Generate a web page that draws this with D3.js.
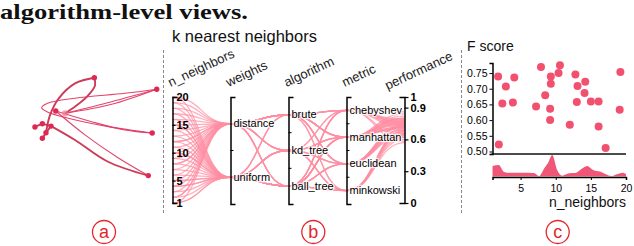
<!DOCTYPE html>
<html>
<head>
<meta charset="utf-8">
<script src="https://cdn.jsdelivr.net/npm/d3@7"></script>
<style>
  body { margin: 0; background: #fff; }
  svg { display: block; font-family: "Liberation Sans", Arial, sans-serif; }
</style>
</head>
<body>
<svg id="chart" width="634" height="246"></svg>
<script>
// ---- data ----
// (a) algorithm graph, layout coords in [0,1]
const nodeIds = ["A", "B", "C", "D", "E", "F", "G", "H", "I", "J", "K"]
const nodeX = [0.495, 0.975, 0.94, 0.91, 0.198, 0.27, 0.038, 0.095, 0.123, 0.095, 0.162]
const nodeY = [0.07, 0.175, 0.573, 0.96, 0.373, 0.394, 0.518, 0.488, 0.57, 0.62, 0.51]
const edgeSource = ["I", "A", "K", "E", "B", "B", "B", "E", "G", "H", "I", "K"]
const edgeTarget = ["A", "F", "D", "D", "F", "F", "C", "C", "H", "K", "J", "I"]
const edgeVia = [
  [[0.154, 0.41], [0.22, 0.26], [0.35, 0.12]],
  [[0.5, 0.14], [0.44, 0.24], [0.35, 0.33]],
  [[0.346, 0.636], [0.6, 0.834]],
  [[0.423, 0.59], [0.68, 0.80]],
  [[0.628, 0.288]],
  [[0.628, 0.312]],
  [[0.731, 0.212], [0.346, 0.257], [0.135, 0.303], [0.09, 0.343], [0.13, 0.379], [0.295, 0.439], [0.602, 0.515]],
  [[0.474, 0.47], [0.73, 0.545]],
  [], [], [], []
]
const edgeStrong = [true, true, true, false, false, false, false, false, true, true, true, true]

// (b) parallel coordinates
const dimensions = ["n_neighbors", "weights", "algorithm", "metric", "performance"]
const weightsCats = ["distance", "uniform"]
const algorithmCats = ["brute", "kd_tree", "ball_tree"]
const metricCats = ["chebyshev", "manhattan", "euclidean", "minkowski"]
const nTicks = [20, 15, 10, 5, 1]
const perfTicks = [1, 0.9, 0.6, 0.3, 0]

const pcNeighbors = [20, 20, 19, 19, 18, 17, 17, 16, 16, 15, 15, 14, 14, 13, 13, 12, 12, 11, 11, 10, 10, 10, 9, 9,
  8, 8, 7, 7, 6, 6, 5, 5, 5, 4, 4, 3, 3, 2, 2, 1, 1, 1, 18, 15, 12, 8, 4, 2]
const pcWeights = ["distance", "uniform", "distance", "uniform", "distance", "uniform", "distance", "uniform",
  "distance", "uniform", "distance", "uniform", "distance", "uniform", "distance", "uniform", "distance", "uniform",
  "distance", "uniform", "distance", "uniform", "distance", "uniform", "distance", "uniform", "distance", "uniform",
  "distance", "uniform", "distance", "uniform", "uniform", "distance", "uniform", "distance", "uniform", "distance",
  "uniform", "distance", "uniform", "uniform", "uniform", "uniform", "distance", "distance", "uniform", "distance"]
const pcAlgorithm = ["brute", "ball_tree", "kd_tree", "ball_tree", "brute", "kd_tree", "brute", "ball_tree",
  "ball_tree", "brute", "brute", "ball_tree", "kd_tree", "kd_tree", "brute", "ball_tree", "ball_tree", "ball_tree",
  "brute", "kd_tree", "brute", "ball_tree", "kd_tree", "brute", "brute", "ball_tree", "ball_tree", "kd_tree",
  "brute", "ball_tree", "kd_tree", "ball_tree", "brute", "brute", "kd_tree", "brute", "ball_tree", "ball_tree",
  "ball_tree", "brute", "kd_tree", "ball_tree", "ball_tree", "kd_tree", "brute", "kd_tree", "ball_tree", "brute"]
const pcMetric = ["chebyshev", "minkowski", "manhattan", "euclidean", "manhattan", "chebyshev", "euclidean", "manhattan",
  "minkowski", "chebyshev", "manhattan", "euclidean", "euclidean", "manhattan", "minkowski", "chebyshev", "manhattan",
  "minkowski", "chebyshev", "euclidean", "manhattan", "manhattan", "minkowski", "euclidean", "chebyshev", "manhattan",
  "euclidean", "minkowski", "manhattan", "chebyshev", "manhattan", "euclidean", "manhattan", "minkowski", "chebyshev",
  "euclidean", "manhattan", "chebyshev", "minkowski", "manhattan", "euclidean", "chebyshev", "manhattan", "minkowski",
  "euclidean", "manhattan", "manhattan", "chebyshev"]
const pcPerformance = [0.78, 0.66, 0.74, 0.70, 0.80, 0.62, 0.72, 0.76, 0.68, 0.58, 0.82, 0.73, 0.69, 0.75, 0.64, 0.71,
  0.77, 0.60, 0.79, 0.67, 0.84, 0.72, 0.65, 0.74, 0.76, 0.70, 0.63, 0.68, 0.78, 0.73, 0.71, 0.66, 0.75, 0.62, 0.77,
  0.69, 0.80, 0.74, 0.57, 0.72, 0.65, 0.76, 0.71, 0.68, 0.73, 0.79, 0.64, 0.86]

// (c) F score vs n_neighbors
const fsNeighbors = [1.8, 2.4, 2.9, 1.9, 4.1, 3.9, 7.2, 7.9, 8.5, 9.2, 9.2, 9.3, 9.3, 10.4, 10.6, 12.0, 12.8, 13.1,
  13.0, 14.2, 14.1, 15.0, 16.1, 16.1, 17.1, 19.1, 19.2]
const fsScore = [0.739, 0.653, 0.707, 0.522, 0.736, 0.656, 0.643, 0.769, 0.679, 0.636, 0.600, 0.716, 0.739, 0.750,
  0.775, 0.585, 0.745, 0.709, 0.658, 0.722, 0.686, 0.659, 0.659, 0.580, 0.511, 0.633, 0.753]
const densityN = [1, 1.9, 2.6, 3.1, 5, 6.9, 7.6, 8.4, 8.9, 9.5, 10.2, 10.9, 11.9, 12.8, 13.8, 14.5, 15.2, 16.4, 17.9,
  18.8, 19.5, 20]
const densityV = [0.49, 0.53, 0.22, 0.18, 0.18, 0.16, 0.02, 0.40, 0.63, 1.0, 0.30, 0.04, 0.15, 0.16, 0.38, 0.49, 0.33,
  0.22, 0.02, 0.12, 0.18, 0.12]

const panelLetters = ["a", "b", "c"]

// ---- drawing ----
const svg = d3.select("#chart")
const red = "#e3262c"

svg.append("text")
  .attr("x", 0).attr("y", 19)
  .attr("font-family", "'Liberation Serif', 'DejaVu Serif', serif")
  .attr("font-weight", "bold")
  .attr("font-size", 22)
  .attr("textLength", 248)
  .attr("lengthAdjust", "spacingAndGlyphs")
  .attr("fill", "#111")
  .text("algorithm-level views.")

// separators
for (const x of [163.5, 461.5]) {
  svg.append("line")
    .attr("x1", x).attr("x2", x).attr("y1", 50).attr("y2", 213)
    .attr("stroke", "#888").attr("stroke-dasharray", "3,2")
}

// panel letters
const lettersMid = d3.scaleOrdinal(panelLetters, [104, 313.3, 557.7])
const gLetters = svg.append("g")
panelLetters.forEach(l => {
  gLetters.append("circle")
    .attr("cx", lettersMid(l)).attr("cy", 232).attr("r", 11.5)
    .attr("fill", "none").attr("stroke", red).attr("stroke-width", 1.3)
  gLetters.append("text")
    .attr("x", lettersMid(l)).attr("y", 232).attr("dy", "0.36em")
    .attr("text-anchor", "middle").attr("font-size", 18).attr("fill", red)
    .text(l)
})

// ---- (a) graph ----
const xA = d3.scaleLinear([0, 1], [30, 160])
const yA = d3.scaleLinear([0, 1], [70, 180])
const nodeIndex = new Map(nodeIds.map((id, i) => [id, i]))
const pos = id => [nodeX[nodeIndex.get(id)], nodeY[nodeIndex.get(id)]]
const edgeLine = d3.line().x(d => xA(d[0])).y(d => yA(d[1])).curve(d3.curveCatmullRom.alpha(0.5))

const gA = svg.append("g").attr("fill", "none")
edgeSource.forEach((s, i) => {
  const pts = [pos(s), ...edgeVia[i], pos(edgeTarget[i])]
  gA.append("path")
    .attr("d", edgeLine(pts))
    .attr("stroke", edgeStrong[i] ? "#c9304f" : "#e23a64")
    .attr("stroke-width", edgeStrong[i] ? 1.9 : 1.1)
    .attr("stroke-opacity", 0.95)
})
svg.append("g").selectAll("circle")
  .data(nodeIds)
  .join("circle")
  .attr("cx", d => xA(pos(d)[0]))
  .attr("cy", d => yA(pos(d)[1]))
  .attr("r", d => d === "F" ? 3.2 : 2.7)
  .attr("fill", d => d === "F" ? "#f07a96" : "#dc2a55")
  .attr("fill-opacity", d => d === "F" ? 0.7 : 1)

// ---- (b) parallel coordinates ----
svg.append("text")
  .attr("x", 172).attr("y", 42)
  .attr("font-size", 16.5).attr("fill", "#111")
  .text("k nearest neighbors")

const xP = d3.scalePoint(dimensions, [172.5, 404.5])
const yScales = {
  n_neighbors: d3.scaleLinear([1, 20], [203, 97]),
  weights: d3.scaleBand(weightsCats, [97, 204]),
  algorithm: d3.scaleBand(algorithmCats, [97, 204]),
  metric: d3.scaleBand(metricCats, [97, 204]),
  performance: d3.scaleLinear([0, 1], [203, 97])
}
const yVal = (dim, v) => {
  const s = yScales[dim]
  return s.bandwidth ? s(v) + s.bandwidth() / 2 : s(v)
}

const rows = pcNeighbors.map((n, i) => ({
  n_neighbors: n, weights: pcWeights[i], algorithm: pcAlgorithm[i],
  metric: pcMetric[i], performance: pcPerformance[i]
}))

const pcLine = d3.line().curve(d3.curveBumpX)
svg.append("g")
  .attr("fill", "none")
  .attr("stroke", "#ff8ea2")
  .attr("stroke-opacity", 0.72)
  .attr("stroke-width", 1.3)
  .selectAll("path")
  .data(rows)
  .join("path")
  .attr("d", r => pcLine(dimensions.map(d => [xP(d), yVal(d, r[d])])))

const axisFont = g => g.selectAll("text").attr("font-size", 11).attr("fill", "#000")
  .attr("font-family", "'Liberation Sans', Arial, sans-serif")

dimensions.forEach(dim => {
  const g = svg.append("g").attr("transform", `translate(${xP(dim)},0)`)
  const s = yScales[dim]
  if (dim === "n_neighbors") {
    g.call(d3.axisRight(s).tickValues(nTicks).tickSize(3).tickSizeOuter(5).tickPadding(1))
    g.selectAll(".tick text").attr("font-weight", "bold")
  } else if (dim === "performance") {
    g.call(d3.axisRight(s).tickValues(perfTicks).tickSize(4).tickSizeOuter(-5).tickPadding(2)
      .tickFormat(d => (d === 0 || d === 1) ? d : d.toFixed(1)))
    g.selectAll(".tick text").attr("font-weight", "bold")
  } else {
    g.call(d3.axisRight(s).tickSize(0).tickSizeOuter(5).tickPadding(3))
    g.selectAll(".tick text")
      .attr("stroke", "#fff").attr("stroke-width", 2.5).attr("stroke-opacity", 0.8)
      .attr("paint-order", "stroke")
    g.selectAll(".bound")
      .data(s.domain().slice(1))
      .join("line")
      .attr("x1", 0).attr("x2", 3)
      .attr("y1", d => s(d)).attr("y2", d => s(d))
      .attr("stroke", "#000")
  }
  g.select(".domain").attr("stroke-width", 1.5)
  g.selectAll(".tick line").attr("stroke-width", 1.2)
  g.call(axisFont)
  g.append("text")
    .attr("transform", `translate(${dim === "performance" ? -17 : -2},${dim === "performance" ? 90 : 87}) rotate(-25)`)
    .attr("font-size", 13).attr("fill", "#222")
    .text(dim)
})

// ---- (c) scatter + density ----
svg.append("text")
  .attr("x", 467).attr("y", 51)
  .attr("font-size", 14).attr("fill", "#111")
  .text("F score")

const xS = d3.scaleLinear([1, 20], [492.5, 626])
const yS = d3.scaleLinear([0.492, 0.782], [154, 63])
const yD = d3.scaleLinear([0, 1], [176.5, 155])

svg.append("g")
  .attr("transform", `translate(${xS(1)},0)`)
  .call(d3.axisLeft(yS).tickValues([0.5, 0.55, 0.6, 0.65, 0.7, 0.75]).tickFormat(d3.format(".2f"))
    .tickSize(3).tickSizeOuter(3).tickPadding(2))
  .call(g => g.select(".domain").attr("stroke-width", 1.5))
  .call(g => g.selectAll("text").attr("font-size", 10.5).attr("fill", "#000"))

svg.append("line")
  .attr("x1", xS(1) - 1).attr("x2", xS(20))
  .attr("y1", yS.range()[0]).attr("y2", yS.range()[0])
  .attr("stroke", "#111").attr("stroke-width", 1.5)

svg.append("path")
  .datum(densityN.map((n, i) => [n, densityV[i]]))
  .attr("fill", "#ee4568")
  .attr("fill-opacity", 0.9)
  .attr("d", d3.area().x(d => xS(d[0])).y0(yD(0)).y1(d => yD(d[1])).curve(d3.curveMonotoneX))

svg.append("g")
  .attr("transform", `translate(0,${yD(0) + 0.5})`)
  .call(d3.axisBottom(xS).tickValues([5, 10, 15, 20]).tickSize(3).tickSizeOuter(3).tickPadding(5))
  .call(g => g.select(".domain").attr("stroke-width", 1.5))
  .call(g => g.selectAll("text").attr("font-size", 10.5).attr("fill", "#000"))

svg.append("g").selectAll("circle")
  .data(fsNeighbors)
  .join("circle")
  .attr("cx", d => xS(d))
  .attr("cy", (d, i) => yS(fsScore[i]))
  .attr("r", 4)
  .attr("fill", "#f2506f")

svg.append("text")
  .attr("x", 626).attr("y", 207)
  .attr("text-anchor", "end")
  .attr("font-size", 14).attr("fill", "#111")
  .text("n_neighbors")
</script>
</body>
</html>
